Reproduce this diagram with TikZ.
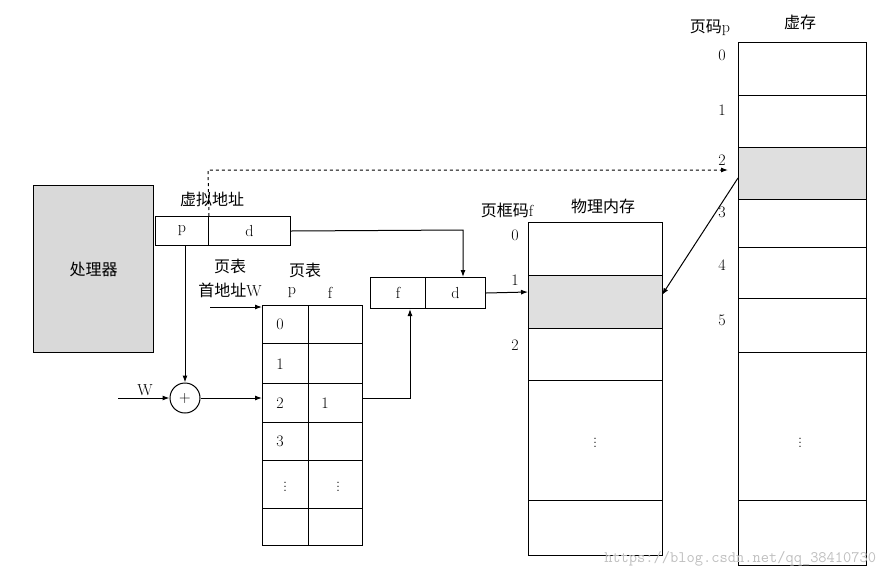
\documentclass[tikz,border=0pt]{standalone}
\usepackage{fontspec}
\newfontfamily\cjk{Noto Sans CJK SC}
\usetikzlibrary{arrows.meta}
\begin{document}
\begin{tikzpicture}[x=1pt,y=-1pt,line width=1pt,
  every node/.style={font=\fontsize{16}{18}\selectfont},
  arr/.style={-{Latex[length=7pt,width=5pt]}},
  shade/.style={fill=gray!25}]
\useasboundingbox (0,0) rectangle (889,574);
% processor
\node[draw,fill=gray!30,minimum width=120pt,minimum height=167pt,anchor=north west] (cpu) at (33,185) {};
\node at (cpu.center) {\cjk 处理器};
% virtual address
\node[draw,minimum width=53pt,minimum height=29pt,anchor=north west,inner sep=0] (vp) at (155,216) {p};
\node[draw,minimum width=82pt,minimum height=29pt,anchor=north west,inner sep=0] (vd) at (208,216) {d};
\node at (212,199) {\cjk 虚拟地址};
% f d box
\node[draw,minimum width=55pt,minimum height=31pt,anchor=north west,inner sep=0] (pf) at (370,277) {f};
\node[draw,minimum width=60pt,minimum height=31pt,anchor=north west,inner sep=0] (pd) at (425,277) {d};
% page table
\foreach \a/\b in {305/343,343/383,383/422,422/460,460/508,508/545}{
  \draw (262,\a) rectangle (308,\b);
  \draw (308,\a) rectangle (362,\b);
}
\node (t0) at (280,324) {0};
\node (t1) at (280,364) {1};
\node (t2) at (280,403) {2};
\node (t3) at (280,441) {3};
\node (td1) at (285,484) {$\vdots$};
\node (td2) at (338,484) {$\vdots$};
\node (f2) at (325,403) {1};
\coordinate (tabrow2) at (362,398);
\coordinate (tabtop) at (262,307);
\coordinate (tabin) at (262,398);
\node at (305,270) {\cjk 页表};
\node at (292,293) {p};
\node at (330,293) {f};
\node at (230,266) {\cjk 页表};
\node at (230,290) {{\cjk 首地址}W};
\coordinate (wst) at (210,307);
\draw[arr] (wst) -- (tabtop);
% plus
\node[draw,circle,minimum size=30pt,inner sep=0] (plus) at (185,398) {+};
\node at (145,390) {W};
\coordinate (win) at (118,398);
\draw[arr] (win) -- (plus);
\draw[arr] (plus) -- (tabin);
\draw[arr] (vp.south -| plus) -- (plus);
\draw[arr] (tabrow2) -- (410,398) -- (pf.south -| 410,0);
% d to fd
\draw[arr] (vd.east) -- (463,230) -- (pd.north -| 463,0);
% physical memory
\draw (528,222) rectangle (662,555);
\draw[shade] (528,275) rectangle (662,328);
\foreach \y in {380,500} \draw (528,\y) -- (662,\y);
\node at (515,235) {0};
\node at (515,280) {1};
\node at (515,345) {2};
\node at (595,440) {$\vdots$};
\node at (507,210) {{\cjk 页框码}f};
\node at (603,206) {\cjk 物理内存};
\coordinate (pm1) at (528,292);
\draw[arr] (pd.east) -- (pm1);
% virtual memory
\draw (738,42) rectangle (866,565);
\draw[shade] (738,147) rectangle (866,199);
\foreach \y in {95,247,298,352,500} \draw (738,\y) -- (866,\y);
\foreach \n/\y in {0/55,1/110,2/160,3/212,4/265,5/320} \node at (722,\y) {\n};
\node at (710,28) {{\cjk 页码}p};
\node at (800,22) {\cjk 虚存};
\node at (800,440) {$\vdots$};
\coordinate (vm2) at (728,170);
\coordinate (vm2b) at (738,178);
\coordinate (pm1r) at (662,295);
\draw[arr] (vm2b) -- (pm1r);
\draw[arr,dashed] (vp.north east) -- (208,170) -- (vm2);
\node[text=gray!50,font=\ttfamily\fontsize{16}{18}\selectfont,anchor=south east] at (880,570) {https://blog.csdn.net/qq\_38410730};
\end{tikzpicture}
\end{document}
